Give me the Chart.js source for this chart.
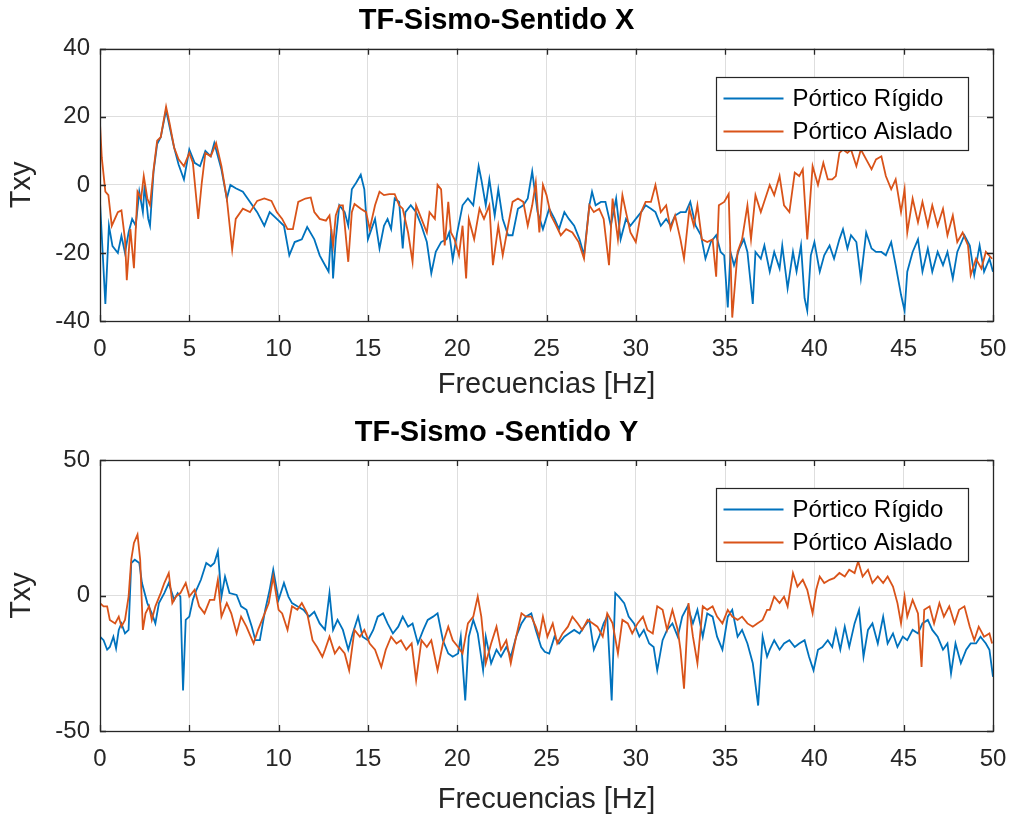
<!DOCTYPE html>
<html><head><meta charset="utf-8">
<script src="https://cdn.jsdelivr.net/npm/chart.js@4.4.0/dist/chart.umd.min.js"></script>
<style>
html,body{margin:0;padding:0;background:#fff;}
#wrap{position:relative;width:1011px;height:821px;overflow:hidden;background:#fff;}
canvas{position:absolute;left:0;display:block;}
</style></head><body>
<div id="wrap">
<canvas id="cX" width="1011" height="410" style="top:0"></canvas>
<canvas id="cY" width="1011" height="411" style="top:410px"></canvas>
</div>
<script>
// ---------- DATA ----------
const seriesNames = ['Pórtico Rígido', 'Pórtico Aislado'];
const titles = ['TF-Sismo-Sentido X', 'TF-Sismo -Sentido Y'];
const xTitle = 'Frecuencias [Hz]';
const yTitle = 'Txy';

// Sentido X - Pórtico Rígido
const freqXRigido = [0,0.15,0.3,0.5,0.7,1.0,1.2,1.4,1.6,1.8,2.0,2.2,2.4,2.5,2.7,2.8,3.0,3.2,3.4,3.7,3.9,4.15,4.4,4.7,5.0,5.3,5.6,5.9,6.2,6.4,6.8,7.1,7.3,7.6,8.0,8.4,8.8,9.2,9.5,9.9,10.3,10.6,10.9,11.3,11.6,12.0,12.3,12.6,12.8,12.95,13.05,13.2,13.4,13.7,13.9,14.1,14.35,14.6,14.8,15.0,15.2,15.4,15.65,15.9,16.1,16.3,16.5,16.75,16.95,17.1,17.4,17.7,18.0,18.3,18.55,18.8,19.1,19.4,19.55,19.75,20.0,20.3,20.6,20.9,21.2,21.35,21.6,21.8,22.1,22.3,22.55,22.85,23.1,23.4,23.7,23.95,24.2,24.5,24.8,25.15,25.45,25.7,26.0,26.25,26.55,26.85,27.1,27.4,27.55,27.75,28.05,28.3,28.6,28.9,29.15,29.45,29.7,30.0,30.3,30.55,30.85,31.1,31.4,31.7,31.95,32.2,32.5,32.8,33.05,33.35,33.65,33.9,34.2,34.5,34.75,34.95,35.15,35.3,35.5,35.8,36.05,36.25,36.55,36.7,37.0,37.2,37.5,37.75,38.05,38.2,38.5,38.8,39.0,39.25,39.45,39.6,39.8,40.0,40.3,40.55,40.85,41.1,41.4,41.6,41.85,42.05,42.35,42.6,42.9,43.2,43.45,43.75,44.0,44.3,44.55,44.85,45.05,45.2,45.5,45.8,46.05,46.35,46.6,46.9,47.2,47.45,47.75,48.0,48.4,48.7,48.95,49.25,49.5,49.8,50];
const txyXRigido = [-5,-20,-35,-12,-18,-20,-15,-20,-14,-10,-12,-2,-8,0,-10,-12,4,12,14,22,17,11,6,1.6,10.4,6.5,5.5,10,8.4,12.3,4.5,-4,0,-1,-2,-5,-8,-12,-8,-10,-12,-20.7,-16.8,-16,-12.4,-16,-20.7,-23.6,-25.5,-13,-27.5,-16,-6,-8,-12,-1.3,0.7,3,-1.3,-16,-13,-10,-18.7,-12,-10,-13,-4,-5,-18.7,-8,-6,-8,-12,-16.8,-26,-19.7,-16.8,-16,-14,-22,-14,-6,-4,-6,5.5,1.6,-6,1.6,-9,-1.3,-10,-14.8,-14.8,-7,-6,-4,4,-8,-13,-7,-10,-13,-8,-10,-12,-16,-20.7,-6,-2,-6,-5,-5,-12,-4,-16,-10,-12,-10,-8,-6,-7,-8,-12,-10,-12,-9,-8,-8,-5,-12,-14.8,-21.7,-16.8,-14.8,-19.7,-20.7,-36,-19.7,-23.6,-18.7,-16,-19.7,-35,-19.7,-21.7,-17.8,-25.5,-19.7,-24.6,-17.8,-30.4,-19.7,-25.5,-17.8,-33.3,-37,-20.7,-16.8,-25.5,-20.7,-17.8,-21.7,-16,-13,-18.7,-14.8,-16.8,-27.5,-14,-18.7,-19.7,-19.7,-20.7,-16.8,-23.6,-32.3,-37,-25.5,-19.7,-16,-25.5,-18.7,-25.5,-19.7,-23.6,-19.7,-27.5,-19.7,-14.8,-17.8,-26.5,-17.8,-25.5,-21.7,-25.5];

// Sentido X - Pórtico Aislado
const freqXAislado = [0,0.1,0.3,0.47,0.66,1.0,1.2,1.4,1.5,1.7,1.9,2.1,2.3,2.45,2.65,2.8,3.0,3.2,3.4,3.7,3.9,4.15,4.4,4.7,5.0,5.2,5.5,5.7,5.9,6.2,6.5,6.8,7.1,7.4,7.6,8.0,8.4,8.8,9.2,9.6,9.9,10.2,10.5,10.8,11.1,11.5,11.8,12.0,12.3,12.65,12.85,13.05,13.2,13.4,13.6,13.9,14.1,14.25,14.6,14.9,15.1,15.4,15.65,15.9,16.2,16.5,16.75,16.95,17.25,17.5,17.7,18.0,18.3,18.45,18.75,18.9,19.1,19.3,19.5,19.65,19.85,20.1,20.3,20.5,20.65,20.95,21.25,21.5,21.8,22.0,22.3,22.55,22.85,23.1,23.4,23.7,23.95,24.2,24.4,24.6,24.8,25.0,25.25,25.5,25.8,26.1,26.45,26.8,27.1,27.4,27.65,27.95,28.2,28.5,28.7,29.0,29.25,29.45,29.7,30.0,30.3,30.55,30.85,31.1,31.4,31.7,31.95,32.2,32.5,32.7,33.0,33.25,33.45,33.7,34.0,34.3,34.5,34.65,34.95,35.2,35.4,35.7,35.95,36.25,36.45,36.7,37.0,37.25,37.5,37.75,38.05,38.3,38.6,38.9,39.15,39.35,39.6,39.9,40.2,40.5,40.75,41.0,41.2,41.4,41.6,41.85,42.05,42.35,42.6,42.9,43.2,43.45,43.75,44.0,44.3,44.55,44.85,45.05,45.2,45.5,45.8,46.05,46.35,46.6,46.9,47.2,47.45,47.75,48.0,48.3,48.6,48.75,49.05,49.35,49.6,49.95];
const txyXAislado = [18,8,-2,-3,-12,-8,-7.5,-16,-28,-13,-24.5,-2,-4,2.6,-4,-6,4.5,13,14,23,18,11,7.5,5.5,9.4,6.5,-10,0.7,9.4,8.4,12.3,5.5,-4,-19,-10,-7,-8,-4.7,-4,-4.7,-8,-10,-13,-13,-5,-4,-3.7,-8,-10,-10.5,-9,-17.8,-9,-6,-6,-22.6,-8,-5.6,-7,-8,-13,-6,-2,-3,-2.7,-2.7,-6,-7,-14,-22.6,-6,-10,-14,-8,-10,0,-1.3,-17.8,-5,-14,-16,-20.7,-12,-27.5,-10,-16,-7,-10,-6,-23.6,-12,-20.7,-12,-5,-4,-5,-12,-6,0.7,-14,0,-3,-9,-11.5,-14.8,-13,-14,-16.8,-21.7,-6,-8,-7,-10,-23.6,-4,-16,-3,-8,-14,-16.8,-8,-5,-5,0,-8,-6,-13,-9,-16,-21.7,-7,-12,-6,-16,-16.8,-16,-27,-6,-5,-2.7,-39,-19.7,-16,-6,-16,-3,-8,-4,0,-3,2.6,-6,-8,3.6,2.6,4.6,-16,5.5,0,6.5,1.6,1.6,2.6,9.4,10.4,9.4,10.4,5.5,10.4,7.5,4.6,7.5,8.4,2.6,-1.3,1.6,-8,-1.3,-14,-4,-11,-5,-12,-6,-12,-7,-14.8,-9,-16.8,-14,-17.8,-26.5,-21.7,-24.6,-19.7,-21.7];

// Sentido Y - Pórtico Rígido
const freqYRigido = [0,0.2,0.4,0.55,0.75,0.9,1.05,1.2,1.4,1.6,1.75,1.95,2.2,2.35,2.65,2.9,3.1,3.3,3.6,3.85,4.15,4.35,4.5,4.65,4.8,5.0,5.2,5.4,5.65,5.95,6.2,6.4,6.6,6.8,7.0,7.25,7.65,7.9,8.2,8.5,8.7,8.95,9.25,9.5,9.7,10.0,10.3,10.55,10.75,11.05,11.4,11.7,12.0,12.3,12.6,12.85,13.05,13.3,13.6,13.9,14.15,14.45,14.7,15.0,15.3,15.55,15.85,16.1,16.4,16.7,16.95,17.25,17.5,17.8,18.1,18.35,18.65,18.9,19.2,19.5,19.75,20.05,20.2,20.45,20.65,20.9,21.15,21.45,21.6,21.9,22.2,22.45,22.75,23.0,23.3,23.6,23.85,24.15,24.4,24.7,24.9,25.15,25.45,25.7,26.0,26.25,26.55,26.85,27.1,27.4,27.65,27.95,28.2,28.4,28.65,28.85,29.05,29.35,29.6,29.9,30.2,30.45,30.75,31.0,31.2,31.5,31.75,32.05,32.35,32.6,32.9,33.2,33.45,33.75,34.0,34.3,34.55,34.85,35.15,35.4,35.7,35.95,36.25,36.55,36.85,37.1,37.35,37.5,37.75,38.05,38.3,38.6,38.9,39.15,39.45,39.7,39.95,40.2,40.45,40.75,41.0,41.2,41.45,41.7,41.95,42.25,42.5,42.75,43.0,43.25,43.55,43.85,44.1,44.4,44.65,44.95,45.2,45.5,45.8,46.05,46.35,46.6,46.9,47.2,47.45,47.65,47.9,48.2,48.5,48.75,49.05,49.3,49.6,49.8,50];
const txyYRigido = [-15.2,-16.5,-20,-19,-15.2,-19.5,-12.7,-10.3,-14,-12.7,12,13.2,12,4.6,-2.8,-6.6,-10.3,-2.8,0.9,4.6,-1.6,0.9,-0.4,-35,-9,-7.8,-1.6,2.1,5.8,12,10.8,12,16.3,-0.4,7,0.9,0.2,-4,-5.3,-11.5,-16.5,-16.5,-5.3,2.1,9.5,-1.6,4.6,-0.4,-2.8,-4,-5.3,-7.8,-6,-10.3,-12.7,0.9,-12.7,-9,-12.7,-20,-14,-7.8,-15.2,-16.5,-12.7,-7.8,-6.6,-10.3,-14,-11.5,-7.8,-11.5,-10.3,-17.7,-12.7,-9,-7.8,-6.6,-16.5,-21.4,-22.6,-21.4,-15.2,-38.7,-15.2,-9,-14,-27.6,-15.2,-25,-20,-22.6,-19,-22.6,-15.2,-10.3,-7.8,-6.6,-12.7,-19,-20.8,-21.4,-15.2,-17.7,-15.2,-14,-12.7,-14,-11.5,-9,-20,-15.2,-10.3,-7.8,-38.7,0.9,-0.4,-2.8,-7.8,-10.3,-15.2,-12.7,-17.7,-19,-27.6,-16.5,-12.7,-10.3,-15.2,-7.8,-4,-10.3,-5.3,-15.2,-6.6,-7.8,-15.2,-20,-7.8,-5.3,-15.2,-12.7,-17.7,-25,-40.6,-15.2,-22.6,-20,-16.5,-20,-17.7,-16.5,-19,-17.7,-16.5,-22.6,-27.6,-20,-19,-16.5,-19,-12.7,-20,-11.5,-19,-10.3,-5.3,-22.6,-12.7,-10.3,-17.7,-7.8,-17.7,-14,-19,-15.2,-16.5,-12.7,-14,-10.3,-9,-12.7,-15.2,-20,-17.7,-28.8,-17.7,-25,-20,-17.7,-17.7,-15.2,-17.7,-20,-30];

// Sentido Y - Pórtico Aislado
const freqYAislado = [0,0.2,0.4,0.55,0.85,1.05,1.2,1.4,1.6,1.75,1.9,2.1,2.25,2.4,2.55,2.75,2.9,3.1,3.4,3.6,3.85,4.05,4.25,4.5,4.8,5.0,5.3,5.55,5.85,6.15,6.4,6.6,6.8,7.1,7.35,7.65,7.9,8.2,8.6,8.85,9.15,9.45,9.7,10.0,10.2,10.5,10.75,11.05,11.3,11.6,11.9,12.15,12.45,12.6,12.85,13.15,13.4,13.7,13.95,14.25,14.55,14.8,15.1,15.4,15.75,16.0,16.3,16.6,16.85,17.15,17.45,17.7,18.0,18.3,18.55,18.9,19.2,19.5,19.75,20.05,20.3,20.6,20.9,21.15,21.35,21.6,21.9,22.2,22.45,22.75,23.0,23.3,23.6,23.85,24.15,24.4,24.6,24.8,25.05,25.35,25.6,25.9,26.2,26.45,26.75,27.0,27.3,27.6,27.85,28.15,28.4,28.7,29.0,29.25,29.55,29.8,30.1,30.4,30.65,30.95,31.2,31.5,31.75,32.05,32.35,32.5,32.7,32.95,33.2,33.45,33.75,34.0,34.3,34.55,34.85,35.15,35.4,35.7,35.95,36.25,36.55,36.8,37.1,37.35,37.5,37.75,38.05,38.3,38.5,38.8,39.05,39.35,39.6,39.9,40.1,40.3,40.55,40.85,41.1,41.4,41.7,41.95,42.25,42.45,42.7,43.0,43.25,43.55,43.85,44.1,44.4,44.65,44.85,45.05,45.2,45.5,45.8,46.0,46.15,46.45,46.7,47.0,47.25,47.55,47.85,48.1,48.4,48.7,48.95,49.2,49.5,49.8,49.95];
const txyYAislado = [-2.8,-4,-4,-9,-10.3,-7.8,-11.5,-9,-0.4,13.2,19.4,22.5,13.2,-12.7,-6.6,-4,-9,-4,0.9,4.6,8.3,-2.8,-0.4,0.9,4.6,-0.4,2.1,-4,-6.6,-1.6,-1.6,5.8,-7.8,-2.8,-6.6,-14,-7.8,-11.5,-17.7,-12.7,-7.8,-2.8,7,-5.3,-6.6,-12.7,-4,-5.3,-2.8,-6.6,-16.5,-19,-22.6,-20,-15.2,-21.4,-19,-21.4,-27.6,-12.7,-15.2,-12.7,-17.7,-20,-26.4,-20,-15.2,-17.7,-16.5,-20,-17.7,-31.3,-16.5,-19,-16.5,-27.6,-17.7,-11.5,-16.5,-19,-21.4,-10.3,-7.8,-0.4,-7.8,-25,-17.7,-11.5,-20,-16.5,-25,-15.2,-6.6,-7.8,-7.8,-11.5,-15.2,-7.8,-15.2,-10.3,-17.7,-14,-11.5,-7.8,-10.3,-12.7,-9,-10.3,-11.5,-15.2,-6.6,-10.3,-21.4,-9,-10.3,-14,-10.3,-7.8,-12.7,-14,-4,-5.3,-12.7,-5.3,-12.7,-20,-34.4,-2.8,-15.2,-25,-4,-5.3,-4,-7.8,-10.3,-5.3,-7.8,-9,-7.8,-10.3,-11.5,-10.3,-9,-5.3,-5.3,-0.4,-2.8,-0.4,-4,8.3,3.3,5.8,2.1,-6.6,2.1,7,4.6,5.8,6.4,8.3,7,9.5,8.3,12.6,7,9.5,4.6,7,4.6,7,3.3,-2.8,-10.3,-0.4,-7.8,-1.6,-6.6,-26.4,-5.3,-4,-10.3,-2.8,-7.8,-4,-10.3,-5.3,-4,-11.5,-16.5,-11.5,-15.2,-14,-17.7];

// Axis ticks
const xTickStep = 5, xMin = 0, xMax = 50;
const yRangeX = [-40, 40], yStepX = 20;
const yRangeY = [-50, 50], yStepY = 50;

// ---------- STYLE ----------
const FONT = "'Liberation Sans', Arial, Helvetica, sans-serif";
const TXT = '#262626';
const BLUE = '#0072BD';
const ORANGE = '#D95319';

function pts(fr, vals){ return fr.map((f,i)=>({x:f, y:vals[i]})); }

const matlabBox = {
  id: 'matlabBox',
  afterDraw(chart) {
    const {ctx, chartArea: a, scales} = chart;
    ctx.save();
    ctx.strokeStyle = TXT; ctx.lineWidth = 1.3;
    ctx.strokeRect(Math.round(a.left)+0.5, Math.round(a.top)+0.5, Math.round(a.right-a.left), Math.round(a.bottom-a.top));
    ctx.beginPath();
    const xs = scales.x, ys = scales.y, tl = 6;
    xs.ticks.forEach((t,i)=>{
      const px = Math.round(xs.getPixelForTick(i))+0.5;
      ctx.moveTo(px, a.bottom); ctx.lineTo(px, a.bottom - tl);
      ctx.moveTo(px, a.top); ctx.lineTo(px, a.top + tl);
    });
    ys.ticks.forEach((t,i)=>{
      const py = Math.round(ys.getPixelForTick(i))+0.5;
      ctx.moveTo(a.left, py); ctx.lineTo(a.left + tl, py);
      ctx.moveTo(a.right, py); ctx.lineTo(a.right - tl, py);
    });
    ctx.stroke();
    // legend (inside, north-east)
    const lw = 252, lh = 73;
    const lx = Math.round(a.right - 277) + 0.5, ly = Math.round(a.top + 28) + 0.5;
    ctx.fillStyle = '#fff';
    ctx.fillRect(lx, ly, lw, lh);
    ctx.lineWidth = 1.2; ctx.strokeStyle = TXT;
    ctx.strokeRect(lx, ly, lw, lh);
    ctx.font = '24px ' + FONT;
    ctx.textBaseline = 'middle'; ctx.textAlign = 'left';
    chart.data.datasets.forEach((ds, i) => {
      const yy = ly + 21 + i * 33;
      ctx.beginPath(); ctx.strokeStyle = ds.borderColor; ctx.lineWidth = 1.8;
      ctx.moveTo(lx + 7, yy); ctx.lineTo(lx + 67, yy); ctx.stroke();
      ctx.fillStyle = '#000';
      ctx.fillText(ds.label, lx + 76, yy + 1);
    });
    ctx.restore();
  }
};

function makeChart(id, title, rig, ais, yr, ystep, titlePad, xTitlePadBottom, xHeight) {
  return new Chart(document.getElementById(id), {
    type: 'line',
    data: { datasets: [
      { label: seriesNames[0], data: rig, borderColor: BLUE, borderWidth: 1.8, pointRadius: 0, tension: 0, order: 1, fill: false },
      { label: seriesNames[1], data: ais, borderColor: ORANGE, borderWidth: 1.8, pointRadius: 0, tension: 0, order: 0, fill: false }
    ]},
    options: {
      responsive: false, animation: false, events: [],
      layout: { padding: { left: 0, right: 18, top: 0, bottom: 0 } },
      plugins: {
        legend: { display: false }, tooltip: { enabled: false },
        title: { display: true, text: title, color: '#000', font: { family: FONT, size: 29, weight: 'bold' }, padding: titlePad }
      },
      scales: {
        x: { type: 'linear', min: xMin, max: xMax,
          ticks: { stepSize: xTickStep, padding: 14, color: TXT, font: { family: FONT, size: 24 }, maxRotation: 0 },
          grid: { color: '#dedede', drawTicks: false, lineWidth: 1 }, border: { display: false },
          title: { display: true, text: xTitle, color: TXT, font: { family: FONT, size: 29 }, padding: { top: 0, bottom: xTitlePadBottom } },
          afterFit(s) { s.height = xHeight; s.paddingLeft = 0; s.paddingRight = 0; } },
        y: { min: yr[0], max: yr[1],
          ticks: { stepSize: ystep, padding: 10, color: TXT, font: { family: FONT, size: 24 } },
          grid: { color: '#dedede', drawTicks: false, lineWidth: 1 }, border: { display: false },
          title: { display: true, text: yTitle, color: TXT, font: { family: FONT, size: 29 }, padding: { top: 5, bottom: 0 } },
          afterFit(s) { s.width = 100; s.paddingTop = 0; s.paddingBottom = 0; } }
      }
    },
    plugins: [matlabBox]
  });
}

makeChart('cX', titles[0], pts(freqXRigido, txyXRigido), pts(freqXAislado, txyXAislado), yRangeX, yStepX, { top: 4, bottom: 10 }, 7.6, 89);
makeChart('cY', titles[1], pts(freqYRigido, txyYRigido), pts(freqYAislado, txyYAislado), yRangeY, yStepY, { top: 5.6, bottom: 9.6 }, 3.6, 90);
</script>
</body></html>
